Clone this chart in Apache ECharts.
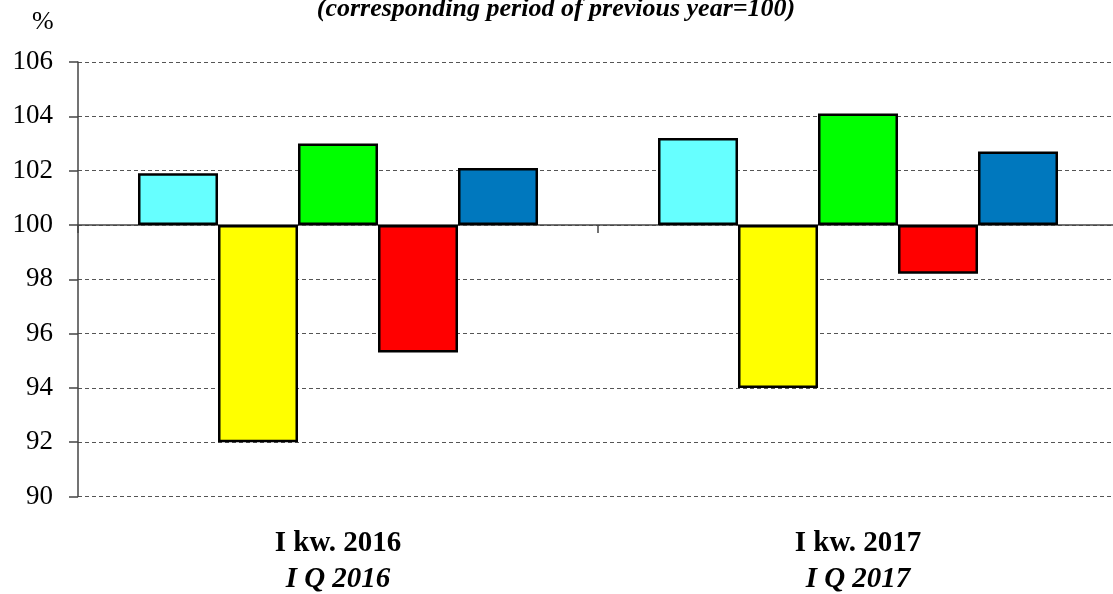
<!DOCTYPE html>
<html><head><meta charset="utf-8">
<script src="https://cdn.jsdelivr.net/npm/echarts@6/dist/echarts.min.js"></script>
<style>html,body{margin:0;padding:0;background:#fff;overflow:hidden;width:1113px;height:594px}#c{width:1130px;height:594px}</style>
</head><body><div id="c"></div>
<script>
const categoriesPL = ['I kw. 2016', 'I kw. 2017'];
const categoriesEN = ['I Q 2016', 'I Q 2017'];
const seriesA = [101.9, 103.2]; // cyan
const seriesB = [92.0, 94.0];   // yellow
const seriesC = [103.0, 104.1]; // green
const seriesD = [95.3, 98.2];   // red
const seriesE = [102.1, 102.7]; // blue
const yTicks = [90, 92, 94, 96, 98, 100, 102, 104, 106];
const BASE = 100;
const colors = ['#66FFFF', '#FFFF00', '#00FF00', '#FF0000', '#0078BE'];
const allSeries = [seriesA, seriesB, seriesC, seriesD, seriesE];
const font = '"Liberation Serif", "Times New Roman", serif';

const chart = echarts.init(document.getElementById('c'));
chart.setOption({
  animation: false,
  title: {
    text: '(corresponding period of previous year=100)',
    left: 551, textAlign: 'center', top: -9,
    textStyle: { fontFamily: font, fontSize: 26, fontWeight: 'bold', fontStyle: 'italic', color: '#000' }
  },
  graphic: [{ type: 'text', left: 32, top: 9, style: { text: '%', font: '26px ' + font, fill: '#000' } }],
  grid: { left: 78, top: 62, width: 1040, bottom: 97 },
  xAxis: [{
    type: 'category', data: categoriesPL,
    axisLine: { onZero: true, lineStyle: { color: '#444', width: 1.5 } },
    axisTick: { show: true, length: 8, lineStyle: { color: '#444', width: 1.5 } },
    axisLabel: { show: false }
  }, {
    type: 'category', data: categoriesPL, position: 'bottom',
    axisLine: { show: false, onZero: false }, axisTick: { show: false },
    axisLabel: {
      margin: 29,
      formatter: (v, i) => '{a|' + v + '}\n{b|' + categoriesEN[i] + '}',
      rich: {
        a: { fontFamily: font, fontSize: 29, fontWeight: 'bold', color: '#000', lineHeight: 36 },
        b: { fontFamily: font, fontSize: 29, fontWeight: 'bold', fontStyle: 'italic', color: '#000', lineHeight: 36 }
      }
    }
  }],
  yAxis: {
    type: 'value', min: yTicks[0] - BASE, max: yTicks[yTicks.length - 1] - BASE, interval: 2,
    axisLine: { show: true, lineStyle: { color: '#444', width: 1.5 } },
    axisTick: { show: true, length: 9, lineStyle: { color: '#444', width: 1.5 } },
    axisLabel: { formatter: v => String(v + BASE), fontFamily: font, fontSize: 27, color: '#000', margin: 25 },
    splitLine: { show: true, lineStyle: { color: '#555', type: [4, 3], width: 1 } }
  },
  series: allSeries.map((s, i) => ({
    type: 'bar', xAxisIndex: 0,
    data: s.map(v => +(v - BASE).toFixed(2)),
    barWidth: 80, barGap: '0%',
    itemStyle: { color: colors[i], borderColor: '#000', borderWidth: 2.5 }
  }))
});
</script></body></html>
